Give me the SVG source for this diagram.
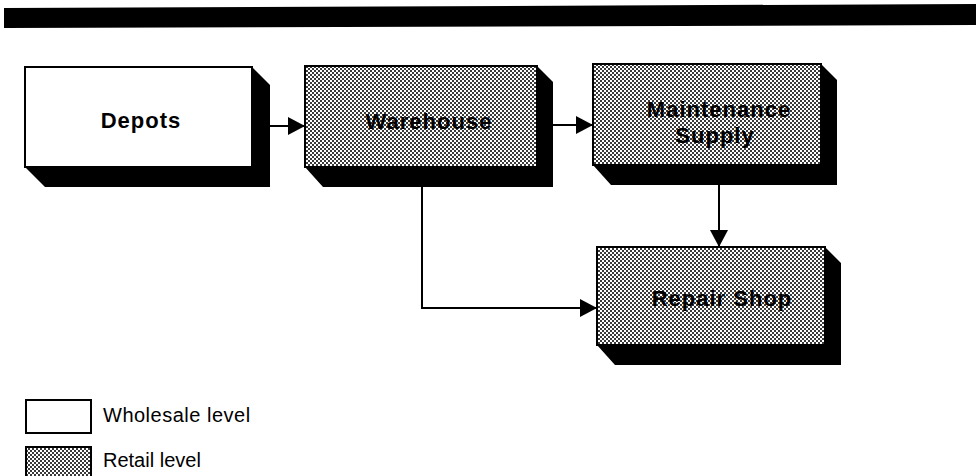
<svg xmlns="http://www.w3.org/2000/svg" width="976" height="476" viewBox="0 0 976 476">
<style>
.lbl{font-family:"Liberation Sans",Arial,sans-serif;font-weight:bold;font-size:22px;letter-spacing:1px;fill:#000;text-anchor:middle}
.leg{font-family:"Liberation Sans",Arial,sans-serif;font-size:20px;fill:#000}
.box{stroke:#000;stroke-width:2}
.wh{fill:#fff}
.rt{fill:url(#dither)}
.shd{fill:#000}
.con{fill:none;stroke:#000;stroke-width:2}
</style>
<defs>
<pattern id="dither" width="4" height="4" patternUnits="userSpaceOnUse">
<rect width="4" height="4" fill="#fff"/>
<rect x="0" y="0" width="2" height="2" fill="#3a3a3a"/>
<rect x="2" y="2" width="2" height="2" fill="#3a3a3a"/>
</pattern>
<marker id="arr" markerUnits="userSpaceOnUse" markerWidth="18" markerHeight="18" viewBox="0 0 18 18" refX="17" refY="9" orient="auto">
<path d="M0,0 L17,9 L0,18 Z" fill="#000"/>
</marker>
</defs>
<polygon points="4,8 976,4 976,25 4,28" fill="#000"/>
<g id="depots">
<polygon class="shd" points="252,67 270,85 270,187 45,187 25,167 252,167"/>
<rect class="box wh" x="25" y="67" width="227" height="100"/>
<text class="lbl" x="141" y="128">Depots</text>
</g>
<g id="warehouse">
<polygon class="shd" points="537,66 553,82 553,187 323,187 305,167 537,167"/>
<rect class="box rt" x="305" y="66" width="232" height="101"/>
<text class="lbl" x="429" y="129">Warehouse</text>
</g>
<g id="maintenance">
<polygon class="shd" points="821,64 837,80 837,185 611,185 593,165 821,165"/>
<rect class="box rt" x="593" y="64" width="228" height="101"/>
<text class="lbl" x="719" y="117">Maintenance</text>
<text class="lbl" x="715" y="143">Supply</text>
</g>
<g id="repair">
<polygon class="shd" points="825,247 841,263 841,365 615,365 597,345 825,345"/>
<rect class="box rt" x="597" y="247" width="228" height="98"/>
<text class="lbl" x="722" y="306">Repair Shop</text>
</g>
<g id="connectors">
<line class="con" x1="270" y1="126" x2="305" y2="126" marker-end="url(#arr)"/>
<line class="con" x1="553" y1="125" x2="593" y2="125" marker-end="url(#arr)"/>
<line class="con" x1="719" y1="185" x2="719" y2="247" marker-end="url(#arr)"/>
<polyline class="con" points="422,187 422,308 597,308" marker-end="url(#arr)"/>
</g>
<g id="legend">
<rect class="box wh" x="26" y="400" width="65" height="33"/>
<text class="leg" x="103" y="422" letter-spacing="0.5">Wholesale level</text>
<rect class="box rt" x="26" y="447" width="65" height="32"/>
<text class="leg" x="103" y="467">Retail level</text>
</g>
</svg>
